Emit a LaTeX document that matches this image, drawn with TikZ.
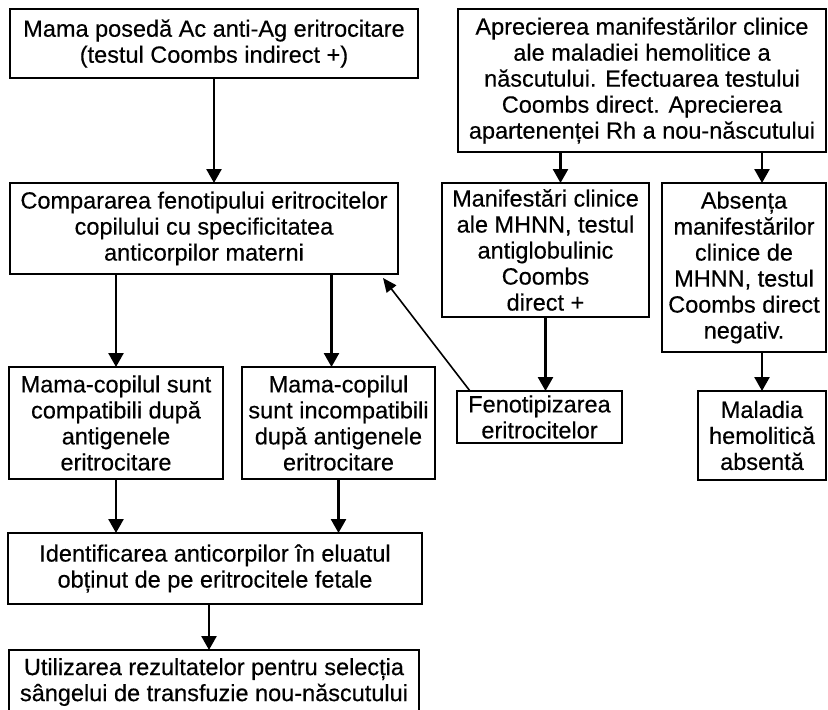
\documentclass[tikz,border=0pt]{standalone}
\usepackage{fontspec}
\setmainfont{Liberation Sans}
\newfontface\boxfont{Liberation Sans}[FakeBold=0.4]
\usetikzlibrary{arrows.meta}
\begin{document}
\begin{tikzpicture}[x=1pt, y=-1pt,
    box/.style={draw, line width=2.2pt, anchor=north west, align=center,
        inner sep=2pt, outer sep=0pt, font=\boxfont\fontsize{23.5}{26}\selectfont},
    arr/.style={line width=2.6pt, -{Triangle[width=15pt,length=14pt]}},
    thinarr/.style={line width=1.6pt, -{Triangle[width=12pt,length=14pt]}}]
\useasboundingbox (0,0) rectangle (828,710);
% left column
\node[box, minimum width=408pt, minimum height=69pt] (mama) at (10,9)
    {Mama posedă Ac anti-Ag eritrocitare\\(testul Coombs indirect +)};
\node[box, minimum width=388pt, minimum height=91pt] (comparare) at (10,183)
    {Compararea fenotipului eritrocitelor\\copilului cu specificitatea\\anticorpilor materni};
\node[box, minimum width=214pt, minimum height=112pt] (compat) at (9,367)
    {Mama-copilul sunt\\compatibili după\\antigenele\\eritrocitare};
\node[box, minimum width=193pt, minimum height=112pt] (incompat) at (242,367)
    {Mama-copilul\\sunt incompatibili\\după antigenele\\eritrocitare};
\node[box, minimum width=414pt, minimum height=71pt] (identif) at (8,533)
    {Identificarea anticorpilor în eluatul\\obținut de pe eritrocitele fetale};
\node[box, minimum width=410pt, minimum height=64pt] (utiliz) at (9,650)
    {Utilizarea rezultatelor pentru selecția\\sângelui de transfuzie nou-născutului};
% right column
\node[box, minimum width=368pt, minimum height=143pt] (apreciere) at (458,9)
    {Aprecierea manifestărilor clinice\\ale maladiei hemolitice a\\născutului. Efectuarea testului\\Coombs direct. Aprecierea\\apartenenței Rh a nou-născutului};
\node[box, minimum width=207pt, minimum height=134pt] (manif) at (442,183)
    {Manifestări clinice\\ale MHNN, testul\\antiglobulinic\\Coombs\\direct +};
\node[box, minimum width=164pt, minimum height=169pt] (absenta) at (662,183)
    {Absența\\manifestărilor\\clinice de\\MHNN, testul\\Coombs direct\\negativ.};
\node[box, minimum width=165pt, minimum height=52pt] (fenotip) at (457,391)
    {Fenotipizarea\\eritrocitelor};
\node[box, minimum width=128pt, minimum height=89pt] (maladia) at (698,391)
    {Maladia\\hemolitică\\absentă};
% arrows
\draw[arr] (mama.south) -- (mama.south |- comparare.north);
\draw[arr] (compat.north |- comparare.south) -- (compat.north);
\draw[arr] ([xshift=-7pt]incompat.north |- comparare.south) -- ([xshift=-7pt]incompat.north);
\draw[arr] (compat.south) -- (compat.south |- identif.north);
\draw[arr] (incompat.south) -- (incompat.south |- identif.north);
\draw[arr] ([xshift=-6pt]identif.south) -- ([xshift=-6pt]identif.south |- utiliz.north);
\draw[arr] ([xshift=15pt]manif.north |- apreciere.south) -- ([xshift=15pt]manif.north);
\draw[arr] (maladia.north |- apreciere.south) -- (maladia.north |- absenta.north);
\draw[arr] (manif.south) -- (manif.south |- fenotip.north);
\draw[arr] (maladia.north |- absenta.south) -- (maladia.north);
\draw[thinarr] ([xshift=13pt]fenotip.north west) -- ([xshift=-15pt,yshift=-4pt]comparare.south east);
\end{tikzpicture}
\end{document}
